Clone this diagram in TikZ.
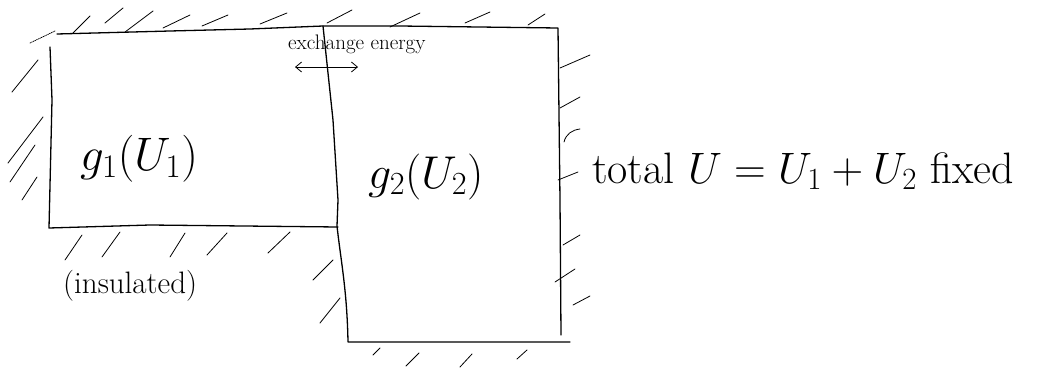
\RequirePackage{fix-cm}
\documentclass[tikz,border=0pt]{standalone}
\usetikzlibrary{arrows.meta}
\begin{document}
\begin{tikzpicture}[x=1pt,y=-1pt,
  wall/.style={line width=1.3pt,line join=round,line cap=round},
  hatch/.style={line width=0.8pt,line cap=round},
  lbl/.style={inner sep=0pt,anchor=base west}]
\useasboundingbox (0,0) rectangle (1044,369);
% walls
\draw[wall] (57,34) -- (170,31) -- (250,29) -- (323,26) -- (400,26) -- (558,28) -- (560,200) -- (561,335);
\draw[wall] (50,47) -- (52,100) -- (49,228) -- (150,225) -- (338,227);
\draw[wall] (323,26) -- (333,120) -- (338,200) -- (337,226) .. controls (341,262) and (347,290) .. (348,342) -- (570,342);
% hatches
\foreach \a/\b/\c/\d in {73/33/90/16,105/23/123/8,125/32/153/11,163/28/190/15,202/26/228/15,260/24/287/13,327/23/352/10,390/27/420/13,465/23/490/12,528/25/545/14,
  12/92/38/60,8/163/43/117,10/182/35/145,22/200/37/177,
  65/260/82/235,102/257/120/232,170/257/185/233,207/255/227/233,268/253/290/232,
  313/280/333/260,320/323/340/298,
  373/355/380/348,406/366/419/353,460/367/472/354,517/359/527/350,
  560/68/590/55,560/108/580/97,558/180/578/172,563/245/580/235,555/282/575/269,573/305/590/296}
  \draw[hatch] (\a,\b) -- (\c,\d);
\draw[hatch,densely dotted] (30,43) -- (55,31);
\draw[hatch] (564,142) .. controls (566,134) and (572,130) .. (580,129);
% labels
\node[lbl] (g1) at (80,170) {\fontsize{47}{50}\selectfont $g_1(U_1)$};
\node[lbl] (g2) at (368,188) {\fontsize{46}{50}\selectfont $g_2(U_2)$};
\node[lbl] (tot) at (592,183) {\fontsize{44}{48}\selectfont total $U = U_1 + U_2$ fixed};
\node[lbl] (ex) at (288,50) {\fontsize{21}{24}\selectfont exchange energy};
\node[lbl] (ins) at (63,293) {\fontsize{31}{34}\selectfont (insulated)};
% arrow
\coordinate (aL) at (295,67);
\coordinate (aR) at (358,67);
\draw[hatch,{Straight Barb[length=6pt,width=10pt]}-{Straight Barb[length=6pt,width=10pt]}] (aL) -- (aR);
\end{tikzpicture}
\end{document}
